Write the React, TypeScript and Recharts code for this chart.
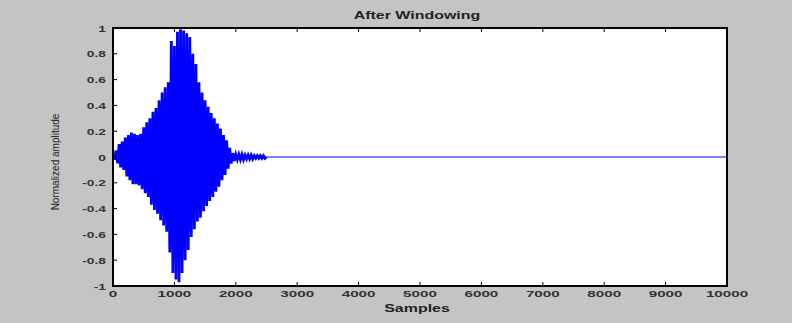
import React from 'react';
import { LineChart, Line, XAxis, YAxis } from 'recharts';

// Windowed signal: alternating peaks
const PEAK_STEP = 50;
const upperPeaks = [
  0.02, 0.05, 0.1, 0.12, 0.15, 0.17, 0.19, 0.18, 0.17, 0.18,
  0.23, 0.27, 0.3, 0.35, 0.38, 0.44, 0.5, 0.54, 0.58, 0.9,
  0.86, 0.97, 0.99, 0.98, 0.96, 0.93, 0.8, 0.72, 0.58, 0.5,
  0.44, 0.39, 0.34, 0.3, 0.26, 0.22, 0.17, 0.13, 0.07, 0.03,
  0.02, 0.02, 0.02, 0.015, 0.015, 0.015, 0.01, 0.01, 0.01, 0.01,
  0,
];
const lowerPeaks = [
  -0.02, -0.05, -0.08, -0.1, -0.15, -0.18, -0.21, -0.21, -0.22, -0.25,
  -0.28, -0.31, -0.37, -0.41, -0.44, -0.49, -0.53, -0.58, -0.74, -0.9,
  -0.95, -0.97, -0.9, -0.8, -0.72, -0.62, -0.56, -0.5, -0.47, -0.42,
  -0.38, -0.34, -0.31, -0.27, -0.23, -0.18, -0.14, -0.09, -0.05, -0.03,
  -0.02, -0.02, -0.02, -0.015, -0.015, -0.015, -0.01, -0.01, -0.01, -0.01,
];
// flat tail after the burst dies out
const tailSamples = [2500, 10000];
const tailValues = [0, 0];
const xTicks = [0, 1000, 2000, 3000, 4000, 5000, 6000, 7000, 8000, 9000, 10000];
const yTicks = [-1, -0.8, -0.6, -0.4, -0.2, 0, 0.2, 0.4, 0.6, 0.8, 1];

const data: { s: number; v?: number; tail?: number }[] = [];
upperPeaks.forEach((v, i) => {
  data.push({ s: i * PEAK_STEP, v });
  if (i < lowerPeaks.length) data.push({ s: i * PEAK_STEP + PEAK_STEP / 2, v: lowerPeaks[i] });
});
tailSamples.forEach((s, i) => {
  const row = data.find((d) => d.s === s);
  if (row) row.tail = tailValues[i];
  else data.push({ s, tail: tailValues[i] });
});

const FONT = '"Liberation Sans", Arial, sans-serif';
const TICK_LEN = 4;
const STRETCH = 1.6;

const BottomTick = ({ x, y, payload }: any) => (
  <g>
    <line x1={x} y1={y} x2={x} y2={y - TICK_LEN} stroke="#000" />
    <text
      transform={`translate(${x},${y + 11}) scale(${STRETCH},1)`}
      textAnchor="middle"
      fontSize={9.5}
      fontWeight="bold"
      fontFamily={FONT}
      fill="#333"
    >
      {payload.value}
    </text>
  </g>
);

const TopTick = ({ x, y }: any) => (
  <line x1={x} y1={y} x2={x} y2={y + TICK_LEN} stroke="#000" />
);

const LeftTick = ({ x, y, payload }: any) => (
  <g>
    <line x1={x} y1={y} x2={x + TICK_LEN} y2={y} stroke="#000" />
    <text
      transform={`translate(${x - 7},${y + 3.5}) scale(1.45,1)`}
      textAnchor="end"
      fontSize={9.5}
      fontWeight="bold"
      fontFamily={FONT}
      fill="#333"
    >
      {payload.value}
    </text>
  </g>
);

const RightTick = ({ x, y }: any) => (
  <line x1={x} y1={y} x2={x - TICK_LEN} y2={y} stroke="#000" />
);

const caption = (top: number): React.CSSProperties => ({
  position: 'absolute',
  left: 417,
  top,
  transform: 'translateX(-50%) scaleX(1.45)',
  fontSize: 11,
  fontWeight: 'bold',
  color: '#222',
  whiteSpace: 'nowrap',
});

export default function App() {
  return (
    <div
      style={{
        position: 'absolute',
        left: 0,
        top: 0,
        width: 792,
        height: 323,
        background: '#c4c4c4',
        fontFamily: FONT,
      }}
    >
      <LineChart
        width={792}
        height={323}
        data={data}
        margin={{ top: 0, right: 0, bottom: 0, left: 0 }}
        style={{ position: 'absolute', left: 0, top: 0 }}
      >
        <rect x={113} y={28} width={614} height={258} fill="#fff" stroke="#000" strokeWidth={2} />
        <XAxis
          xAxisId="bottom"
          dataKey="s"
          type="number"
          domain={[0, 10000]}
          ticks={xTicks}
          height={37}
          tickSize={0}
          tickMargin={0}
          tickLine={false}
          tick={<BottomTick />}
          axisLine={{ stroke: '#000', strokeWidth: 2 }}
          interval={0}
          allowDataOverflow
        />
        <XAxis
          xAxisId="top"
          orientation="top"
          dataKey="s"
          type="number"
          domain={[0, 10000]}
          ticks={xTicks}
          height={28}
          tickSize={0}
          tickMargin={0}
          tickLine={false}
          tick={<TopTick />}
          axisLine={{ stroke: '#000', strokeWidth: 2 }}
          interval={0}
        />
        <YAxis
          yAxisId="left"
          type="number"
          domain={[-1, 1]}
          ticks={yTicks}
          width={113}
          tickSize={0}
          tickMargin={0}
          tickLine={false}
          tick={<LeftTick />}
          axisLine={{ stroke: '#000', strokeWidth: 2 }}
          interval={0}
        />
        <YAxis
          yAxisId="right"
          orientation="right"
          type="number"
          domain={[-1, 1]}
          ticks={yTicks}
          width={65}
          tickSize={0}
          tickMargin={0}
          tickLine={false}
          tick={<RightTick />}
          axisLine={{ stroke: '#000', strokeWidth: 2 }}
          interval={0}
        />
        <Line
          xAxisId="bottom"
          yAxisId="left"
          type="linear"
          dataKey="v"
          stroke="#0000ff"
          strokeWidth={2.8}
          dot={false}
          connectNulls
          isAnimationActive={false}
        />
        <Line
          xAxisId="bottom"
          yAxisId="left"
          type="linear"
          dataKey="tail"
          stroke="#0000ff"
          strokeWidth={1}
          dot={false}
          connectNulls
          isAnimationActive={false}
        />
      </LineChart>
      <div style={caption(9)}>After Windowing</div>
      <div style={caption(302)}>Samples</div>
      <div
        style={{
          position: 'absolute',
          left: 55,
          top: 162,
          transform: 'translate(-50%, -50%) rotate(-90deg)',
          fontSize: 10,
          whiteSpace: 'nowrap',
          color: '#222',
        }}
      >
        Normalized amplitude
      </div>
    </div>
  );
}
